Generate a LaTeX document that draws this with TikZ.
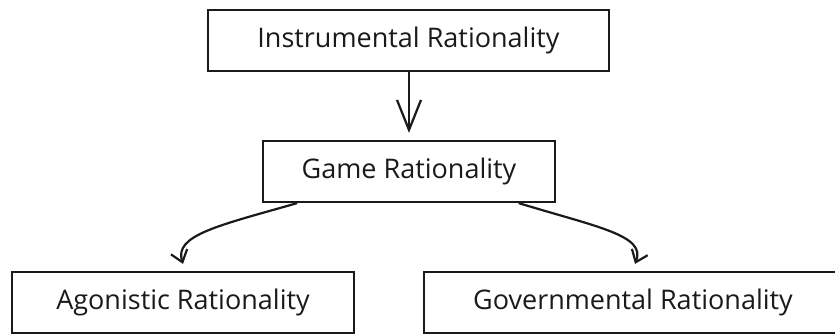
\documentclass[tikz,border=0pt]{standalone}
\usepackage{fontspec}
\setmainfont{Open Sans}
\usetikzlibrary{calc,arrows.meta,positioning}
\definecolor{ink}{HTML}{1A1A1A}
\tikzset{
  ratbox/.style={draw=ink, line width=2.2pt, minimum height=61pt,
    inner sep=0pt, text=ink, font=\fontsize{27}{32}\selectfont},
  flow/.style={draw=ink, line width=2.2pt},
}
\begin{document}
\begin{tikzpicture}[x=1pt,y=1pt]
  \useasboundingbox (0,0) rectangle (835,333);
  \clip (0,0) rectangle (835,333);
  \node[ratbox, minimum width=401pt](instr) at (408.5,292.5){Instrumental Rationality};
  \node[ratbox, minimum width=292pt](game) at (409,161.5){Game Rationality};
  \node[ratbox, minimum width=342pt](agon) at (183,30.5){Agonistic Rationality};
  \node[ratbox, minimum width=418pt](gov) at (633,30.5){Governmental Rationality};
  \coordinate(G1) at ($(game.south west)!0.12!(game.south east)$);
  \coordinate(G2) at ($(game.south west)!0.873!(game.south east)$);
  \coordinate(A0) at ($(agon.north)+(0,7)$);
  \coordinate(V0) at ($(gov.north)+(2,7)$);
  \draw[flow, -{Straight Barb[length=30pt,width=24pt]}, shorten >=7pt](instr.south -| game.north)--(game.north);
  \draw[flow, -{Straight Barb[length=11pt,width=17pt]}](G1) to[out=-164, in=108, out looseness=1.6, in looseness=0.6](A0);
  \draw[flow, -{Straight Barb[length=11pt,width=17pt]}](G2) to[out=-17, in=68, out looseness=1.6, in looseness=0.6](V0);
\end{tikzpicture}
\end{document}
